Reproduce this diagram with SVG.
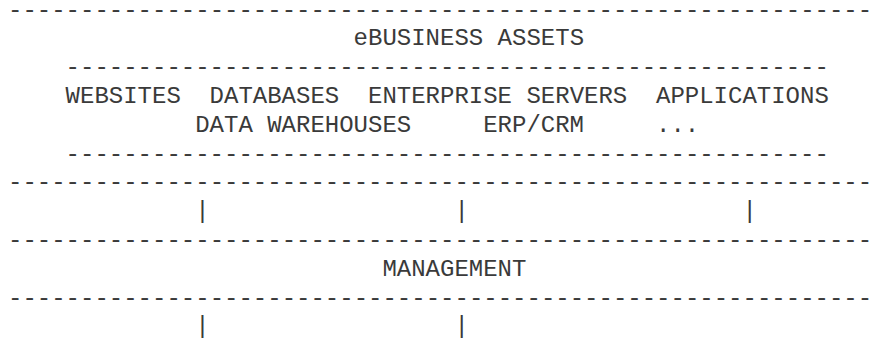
<svg xmlns="http://www.w3.org/2000/svg" width="877" height="343" viewBox="0 0 877 343">
<style>
text{font-family:"Liberation Mono","Courier New",monospace;font-size:24px;fill:#3a3a3a;white-space:pre}
</style>
<rect width="877" height="343" fill="#fff"/>
<g id="assets">
<text x="8" y="16.6">------------------------------------------------------------</text>
<text x="353.6" y="45.4">eBUSINESS ASSETS</text>
<text x="65.6" y="74.2">-----------------------------------------------------</text>
<text x="65.6" y="103">WEBSITES</text>
<text x="209.6" y="103">DATABASES</text>
<text x="368" y="103">ENTERPRISE SERVERS</text>
<text x="656" y="103">APPLICATIONS</text>
<text x="195.2" y="131.8">DATA WAREHOUSES</text>
<text x="483.2" y="131.8">ERP/CRM</text>
<text x="656" y="131.8">...</text>
<text x="65.6" y="160.6">-----------------------------------------------------</text>
<text x="8" y="189.4">------------------------------------------------------------</text>
</g>
<g id="connectors">
<text x="195.2" y="218.2">|</text>
<text x="454.4" y="218.2">|</text>
<text x="742.4" y="218.2">|</text>
<text x="195.2" y="333.4">|</text>
<text x="454.4" y="333.4">|</text>
</g>
<g id="management">
<text x="8" y="247">------------------------------------------------------------</text>
<text x="382.4" y="275.8">MANAGEMENT</text>
<text x="8" y="304.6">------------------------------------------------------------</text>
</g>
</svg>
